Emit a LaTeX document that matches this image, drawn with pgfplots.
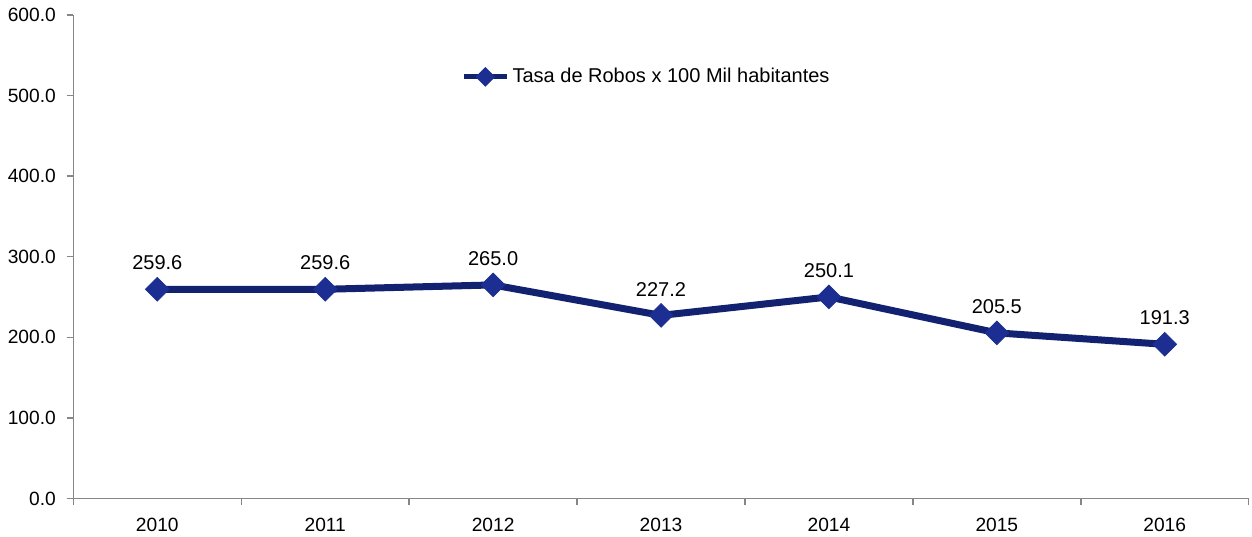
\documentclass[border=0pt]{standalone}
\usepackage{pgfplots}
\pgfplotsset{compat=1.18}
\usepackage{fontspec}
\setmainfont{Liberation Sans}
\definecolor{serie}{RGB}{18,34,112}
\definecolor{marca}{RGB}{28,46,145}
\definecolor{eje}{RGB}{134,134,134}
\begin{document}
\begin{tikzpicture}
\begin{axis}[
    scale only axis,
    width=705pt, height=290pt,
    xmin=-0.5, xmax=6.5,
    ymin=0, ymax=600,
    axis x line*=bottom, axis y line*=left,
    axis line style={eje, line width=0.9pt},
    tick align=outside,
    xtick={0,...,6},
    xticklabels={2010,2011,2012,2013,2014,2015,2016},
    major x tick style={draw=none},
    minor xtick={-0.5,0.5,...,6.5},
    minor tick length=4pt,
    minor x tick style={eje, line width=0.9pt},
    ytick={0,100,...,600},
    major tick length=4pt,
    y tick style={eje, line width=0.9pt},
    yticklabel style={xshift=-3pt, /pgf/number format/.cd, fixed, fixed zerofill, precision=1},
    /pgf/number format/assume math mode=true,
    tick label style={font=\fontsize{11.5}{13}\selectfont},
    xticklabel style={yshift=-4pt},
    nodes near coords,
    nodes near coords style={black, font=\fontsize{12}{14}\selectfont, yshift=8pt,
        /pgf/number format/.cd, fixed, fixed zerofill, precision=1},
    legend style={draw=none, fill=none, at={(0.33,0.872)}, anchor=west,
        font=\fontsize{12}{14}\selectfont, inner xsep=0pt,
        legend image code/.code={
            \draw[serie, line width=3pt] (0cm,0cm) -- (0.9cm,0cm);
            \fill[marca] (0.45cm,0cm) ++(0,3pt) -- ++(3pt,-3pt) -- ++(-3pt,-3pt) -- ++(-3pt,3pt) -- cycle;
        }},
    legend cell align=left,
]
\addplot[serie, line width=4.2pt, mark=square*, mark size=5pt,
    mark options={rotate=45, fill=marca, draw=marca, line width=0.5pt}]
    coordinates {(0,259.6) (1,259.6) (2,265.0) (3,227.2) (4,250.1) (5,205.5) (6,191.3)};
\legend{Tasa de Robos x 100 Mil habitantes}
\coordinate (ll) at (rel axis cs:0,0);
\coordinate (ul) at (rel axis cs:0,1);
\coordinate (ur) at (rel axis cs:1,1);
\end{axis}
\path (ll) ++(-44pt,0) (ul) ++(0,9pt) (ur) ++(2pt,0);
\end{tikzpicture}
\end{document}
